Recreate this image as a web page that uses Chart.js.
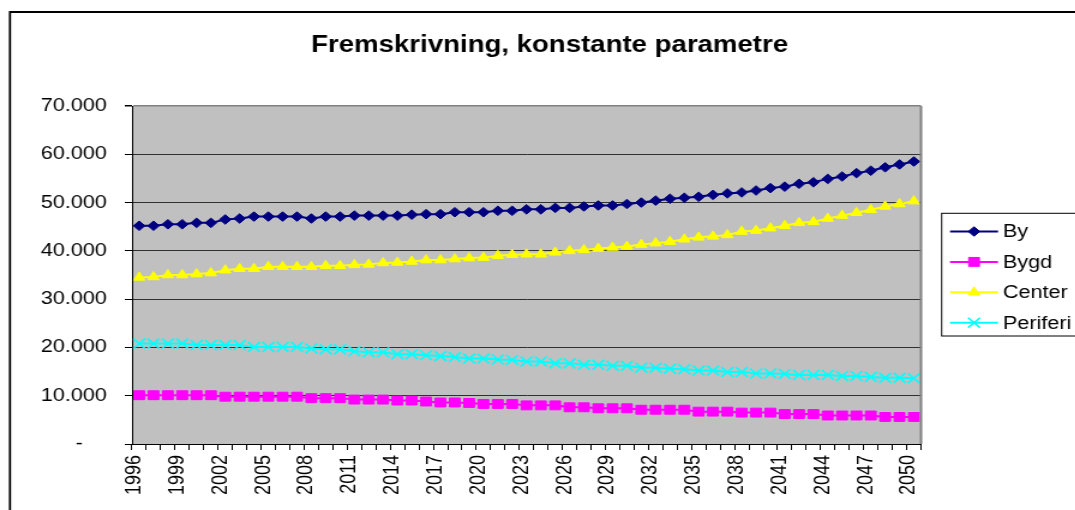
<!DOCTYPE html>
<html>
<head>
<meta charset="utf-8">
<title>Fremskrivning, konstante parametre</title>
<script src="https://cdn.jsdelivr.net/npm/chart.js@4.4.0/dist/chart.umd.min.js"></script>
<style>
  html, body { margin: 0; padding: 0; background: #fff; overflow: hidden; }
  /* the original sheet is stretched sideways, so the canvas is too */
  #chart { display: block; transform: scaleX(1.2); transform-origin: 0 0; }
</style>
</head>
<body>
<canvas id="chart" width="896" height="510"></canvas>
<script>
const TITLE = 'Fremskrivning, konstante parametre';
const FONT = '"Liberation Sans", Arial, sans-serif';

const years = [
    '1996', '1997', '1998', '1999', '2000', '2001', '2002', '2003', '2004', '2005',
    '2006', '2007', '2008', '2009', '2010', '2011', '2012', '2013', '2014', '2015',
    '2016', '2017', '2018', '2019', '2020', '2021', '2022', '2023', '2024', '2025',
    '2026', '2027', '2028', '2029', '2030', '2031', '2032', '2033', '2034', '2035',
    '2036', '2037', '2038', '2039', '2040', '2041', '2042', '2043', '2044', '2045',
    '2046', '2047', '2048', '2049', '2050'
];

const by = [
    45200, 45200, 45500, 45500, 45800, 45800, 46500, 46700, 47100, 47100,
    47100, 47100, 46700, 47100, 47100, 47300, 47300, 47300, 47300, 47500,
    47600, 47600, 48000, 48000, 48000, 48300, 48300, 48600, 48600, 48900,
    48900, 49200, 49400, 49400, 49700, 50000, 50400, 50800, 51000, 51200,
    51600, 51900, 52100, 52500, 53000, 53300, 53900, 54200, 54900, 55400,
    56100, 56600, 57300, 57900, 58500
];

const bygd = [
    10100, 10100, 10100, 10100, 10100, 10100, 9800, 9800, 9800, 9800,
    9800, 9800, 9500, 9500, 9500, 9200, 9200, 9200, 9000, 9000,
    8800, 8600, 8600, 8500, 8300, 8300, 8300, 8000, 8000, 8000,
    7600, 7600, 7400, 7400, 7400, 7100, 7100, 7100, 7100, 6700,
    6700, 6700, 6500, 6500, 6500, 6200, 6200, 6200, 5900, 5900,
    5900, 5900, 5600, 5600, 5600
];

const center = [
    34500, 34600, 35000, 35000, 35200, 35400, 36000, 36300, 36300, 36700,
    36700, 36700, 36700, 36900, 36900, 37100, 37200, 37500, 37600, 37800,
    38100, 38100, 38300, 38500, 38600, 39000, 39200, 39300, 39300, 39700,
    40000, 40200, 40500, 40700, 40900, 41300, 41600, 41900, 42400, 42800,
    43000, 43300, 44000, 44200, 44700, 45200, 45800, 46000, 46700, 47300,
    47900, 48500, 49200, 49700, 50300
];

const periferi = [
    20800, 20800, 20800, 20800, 20500, 20500, 20500, 20500, 20100, 20100,
    20100, 20100, 19800, 19600, 19600, 19200, 19000, 19000, 18600, 18600,
    18400, 18200, 18000, 17700, 17700, 17500, 17400, 17100, 17100, 16700,
    16700, 16400, 16400, 16200, 16200, 15800, 15800, 15600, 15500, 15200,
    15200, 14900, 14900, 14600, 14600, 14500, 14300, 14300, 14300, 14100,
    14100, 13900, 13700, 13700, 13600
];

const seriesNames = ['By', 'Bygd', 'Center', 'Periferi'];
const seriesColors = ['#000080', '#ff00ff', '#ffff00', '#00ffff'];
const seriesMarkers = ['rectRot', 'rect', 'triangle', 'crossRot'];
const markerSizes = [4.8, 6.3, 5.5, 7];

// 10.000 style numbers, and Excel's accounting dash for zero
function formatTick(v) {
    if (v === 0) return '-    ';
    return String(v).replace(/\B(?=(\d{3})+(?!\d))/g, '.');
}

// Excel look: grey plot area, outer frame, title and boxed legend
const excelLook = {
    id: 'excelLook',
    beforeDraw(chart) {
        const { ctx, chartArea: a } = chart;
        ctx.save();
        ctx.fillStyle = '#c0c0c0';
        ctx.fillRect(a.left, a.top, a.right - a.left, a.bottom - a.top);

        ctx.strokeStyle = '#000';
        ctx.lineWidth = 1.8;
        ctx.beginPath();
        ctx.moveTo(8.3, chart.height + 5);
        ctx.lineTo(8.3, 12);
        ctx.lineTo(chart.width + 5, 12);
        ctx.stroke();

        ctx.fillStyle = '#000';
        ctx.font = 'bold 23px ' + FONT;
        ctx.textAlign = 'center';
        ctx.textBaseline = 'alphabetic';
        ctx.fillText(TITLE, 458, 52);
        ctx.restore();
    },
    afterDraw(chart) {
        const { ctx, chartArea: a } = chart;
        ctx.save();
        ctx.strokeStyle = '#808080';
        ctx.lineWidth = 2;
        ctx.beginPath();
        ctx.moveTo(a.right, a.top);
        ctx.lineTo(a.right, a.bottom);
        ctx.stroke();

        // legend box, cut by the right edge like in the original
        ctx.strokeStyle = '#000';
        ctx.lineWidth = 1;
        ctx.strokeRect(784.7, 213.3, 200, 122.7);

        ctx.font = '18px ' + FONT;
        ctx.textAlign = 'left';
        ctx.textBaseline = 'middle';
        chart.data.datasets.forEach((ds, i) => {
            const y = 231.5 + i * 30.4;
            ctx.strokeStyle = ds.borderColor;
            ctx.lineWidth = 2;
            ctx.beginPath();
            ctx.moveTo(791.7, y);
            ctx.lineTo(831.7, y);
            ctx.stroke();

            ctx.fillStyle = ds.backgroundColor;
            ctx.lineWidth = ds.pointBorderWidth;
            Chart.helpers.drawPoint(ctx, {
                pointStyle: ds.pointStyle,
                radius: ds.pointRadius,
                borderWidth: ds.pointBorderWidth,
                rotation: 0
            }, 811.7, y);

            ctx.fillStyle = '#000';
            ctx.fillText(ds.label, 835.8, y + 1);
        });
        ctx.restore();
    }
};

const seriesData = [by, bygd, center, periferi];

const datasets = seriesNames.map((name, i) => ({
    label: name,
    data: seriesData[i],
    borderColor: seriesColors[i],
    backgroundColor: seriesColors[i],
    borderWidth: 2,
    pointStyle: seriesMarkers[i],
    pointRadius: markerSizes[i],
    pointBorderColor: seriesColors[i],
    pointBackgroundColor: seriesColors[i],
    pointBorderWidth: i === 3 ? 1.6 : 1,
    tension: 0,
    fill: false
}));

new Chart(document.getElementById('chart'), {
    type: 'line',
    data: { labels: years, datasets: datasets },
    options: {
        responsive: false,
        animation: false,
        events: [],
        layout: { padding: { top: 106, right: 128.5, left: 0, bottom: 0 } },
        plugins: {
            legend: { display: false },
            title: { display: false },
            tooltip: { enabled: false }
        },
        scales: {
            x: {
                offset: true,
                afterFit: (s) => { s.height = 66; },
                grid: {
                    offset: true,
                    drawOnChartArea: false,
                    drawTicks: true,
                    tickLength: 6,
                    tickColor: '#000'
                },
                border: { color: '#000', width: 1 },
                ticks: {
                    autoSkip: false,
                    minRotation: 90,
                    maxRotation: 90,
                    padding: 5,
                    labelOffset: -4,
                    color: '#000',
                    font: { family: FONT, size: 18 },
                    callback: function (value, index) {
                        return index % 3 === 0 ? this.getLabelForValue(value) : '';
                    }
                }
            },
            y: {
                min: 0,
                max: 70000,
                afterFit: (s) => { s.width = 110; },
                grid: {
                    color: (c) => c.tick && c.tick.value === 70000 ? '#808080' : '#303030',
                    lineWidth: (c) => c.tick && c.tick.value === 70000 ? 1.5 : 1,
                    drawTicks: true,
                    tickLength: 6,
                    tickColor: '#000'
                },
                border: { color: '#000', width: 1 },
                ticks: {
                    stepSize: 10000,
                    padding: 15,
                    color: '#000',
                    font: { family: FONT, size: 18 },
                    callback: (v) => formatTick(v)
                }
            }
        }
    },
    plugins: [excelLook]
});
</script>
</body>
</html>
